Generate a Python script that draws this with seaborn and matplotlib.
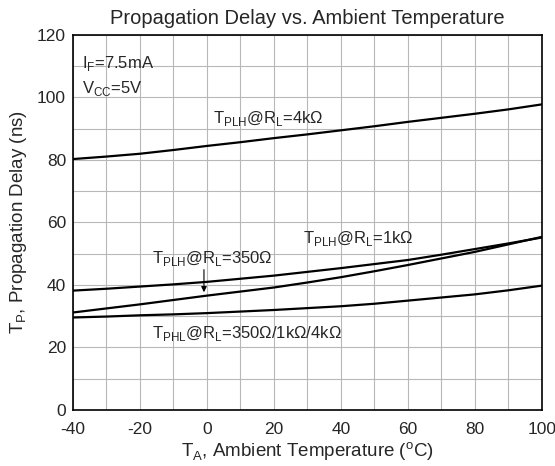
import pandas as pd
import matplotlib.pyplot as plt
import seaborn as sns

# curves
temp = [-40, -30, -20, -10, 0, 10, 20, 30, 40, 50, 60, 70, 80, 90, 100]
plh_4k = [80.3, 81.1, 82.0, 83.2, 84.5, 85.7, 87.0, 88.2, 89.5, 90.8, 92.2, 93.5, 94.8, 96.2, 97.8]
plh_1k = [38.2, 38.8, 39.5, 40.2, 41.0, 42.0, 43.0, 44.2, 45.4, 46.7, 48.0, 49.7, 51.5, 53.3, 55.2]
plh_350 = [31.2, 32.5, 33.8, 35.2, 36.6, 37.9, 39.2, 40.8, 42.5, 44.4, 46.4, 48.5, 50.6, 53.0, 55.4]
phl_all = [29.6, 29.9, 30.3, 30.6, 31.0, 31.5, 32.0, 32.6, 33.2, 34.0, 35.0, 36.0, 37.0, 38.3, 39.8]

series = {
    "4k": plh_4k,
    "1k": plh_1k,
    "350": plh_350,
    "phl": phl_all,
}
df = pd.concat(
    [pd.DataFrame({"temp": temp, "delay": v, "curve": k}) for k, v in series.items()],
    ignore_index=True,
)

sns.set_style("whitegrid")
plt.rcParams["font.family"] = ["Liberation Sans", "DejaVu Sans"]
plt.rcParams["mathtext.fontset"] = "custom"
plt.rcParams["mathtext.rm"] = "Liberation Sans"
plt.rcParams["axes.unicode_minus"] = False

fig = plt.figure(figsize=(5.55, 4.66), dpi=100)
ax = fig.add_axes([0.1315, 0.1202, 0.845, 0.8047])

sns.lineplot(data=df, x="temp", y="delay", units="curve", estimator=None,
             color="black", linewidth=1.6, legend=False, ax=ax)

ax.set_xlim(-40, 100)
ax.set_ylim(0, 120)
ax.set_xticks(range(-40, 101, 20))
ax.set_xticks(range(-40, 101, 10), minor=True)
ax.set_yticks(range(0, 121, 20))
ax.set_yticks(range(0, 121, 10), minor=True)
ax.grid(which="both", color="#b8b8b8", linewidth=0.8)
ax.tick_params(which="both", length=0, labelsize=12.5)
ax.tick_params(axis="x", pad=9)
ax.tick_params(axis="y", pad=5)
for s in ax.spines.values():
    s.set_color("black")
    s.set_linewidth(1.2)

ax.set_title("Propagation Delay vs. Ambient Temperature", fontsize=14.5, pad=8)
ax.set_xlabel(r"T$_\mathregular{A}$, Ambient Temperature ($^\mathregular{o}$C)", fontsize=13.5, labelpad=2)
ax.set_ylabel(r"T$_\mathregular{P}$, Propagation Delay (ns)", fontsize=13.5, labelpad=6)

lab = dict(fontsize=12, va="center", ha="left")
ax.text(-37.3, 111, r"I$_\mathregular{F}$=7.5mA", **lab)
ax.text(-37.3, 103, r"V$_\mathregular{CC}$=5V", **lab)
ax.text(1.8, 93.4, r"T$_\mathregular{PLH}$@R$_\mathregular{L}$=4kΩ", **lab)
ax.text(28.7, 55.0, r"T$_\mathregular{PLH}$@R$_\mathregular{L}$=1kΩ", **lab)
ax.text(-16.4, 48.6, r"T$_\mathregular{PLH}$@R$_\mathregular{L}$=350Ω", **lab)
ax.text(-16.4, 24.6, r"T$_\mathregular{PHL}$@R$_\mathregular{L}$=350Ω/1kΩ/4kΩ", **lab)
ax.annotate("", xy=(-0.9, 36.8), xytext=(-0.9, 45.8),
            arrowprops=dict(arrowstyle="-|>", color="black", lw=0.8, mutation_scale=8))

fig.savefig("out.png", dpi=100)
